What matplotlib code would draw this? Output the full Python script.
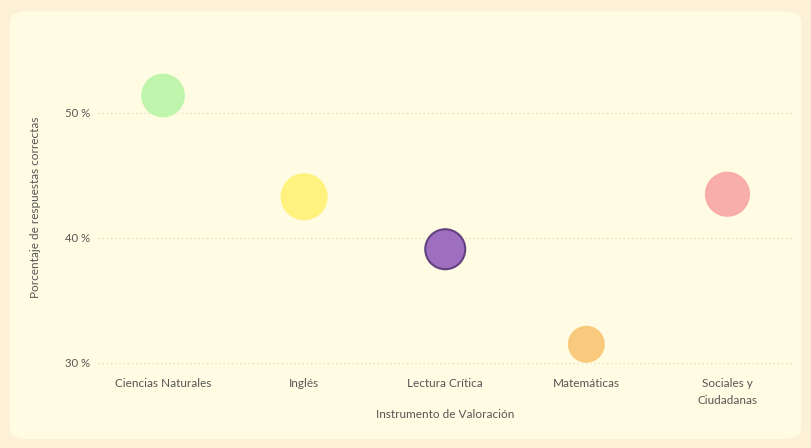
import matplotlib.pyplot as plt
from matplotlib.patches import FancyBboxPatch

categorias = ['Ciencias Naturales', 'Inglés', 'Lectura Crítica', 'Matemáticas', 'Sociales y\nCiudadanas']
porcentaje = [51.4, 43.3, 39.1, 31.5, 43.5]
tamano = [900, 1050, 830, 630, 960]
colores = ['#bdf5aa', '#fff27a', '#9a67bd', '#f9c878', '#f8aaa8']
bordes = ['#bdf5aa', '#fff27a', '#5d3c7c', '#f9c878', '#f8aaa8']
y_ticks = [30, 40, 50]
y_labels = ['30 %', '40 %', '50 %']

plt.rcParams['font.family'] = ['Lato', 'DejaVu Sans']

fig = plt.figure(figsize=(8.11, 4.48), dpi=100)
fig.patch.set_facecolor('#fcf0d6')
panel = FancyBboxPatch((0.012, 0.02), 0.976, 0.955, boxstyle='round,pad=0,rounding_size=0.025',
                       transform=fig.transFigure, facecolor='#fffce3', edgecolor='none', zorder=-1)
fig.patches.append(panel)

ax = fig.add_axes([0.121, 0.1758, 0.856, 0.7115])
ax.set_zorder(2)
ax.set_facecolor('none')
x = list(range(len(categorias)))
ax.scatter(x, porcentaje, s=tamano, c=colores, edgecolors=bordes, linewidths=1.5, alpha=0.95, zorder=3)

ax.set_xlim(-0.46, 4.46)
ax.set_ylim(29.5, 55)
ax.set_xticks(x)
ax.set_xticklabels(categorias, fontsize=8.5, color='#555555', linespacing=1.7)
ax.set_yticks(y_ticks)
ax.set_yticklabels(y_labels, fontsize=8.2, color='#555555')
ax.tick_params(length=0, pad=6)
ax.grid(axis='y', color='#e4e0c2', linestyle=(0, (1, 2)), linewidth=1)
ax.set_axisbelow(True)
for s in ax.spines.values():
    s.set_visible(False)

ax.set_xlabel('Instrumento de Valoración', fontsize=8.5, color='#555555')
ax.xaxis.set_label_coords(0.5, -0.125)
ax.set_ylabel('Porcentaje de respuestas correctas', fontsize=8.5, color='#555555')
ax.yaxis.set_label_coords(-0.082, 0.509)

fig.savefig('out.png', dpi=100, facecolor=fig.get_facecolor())
